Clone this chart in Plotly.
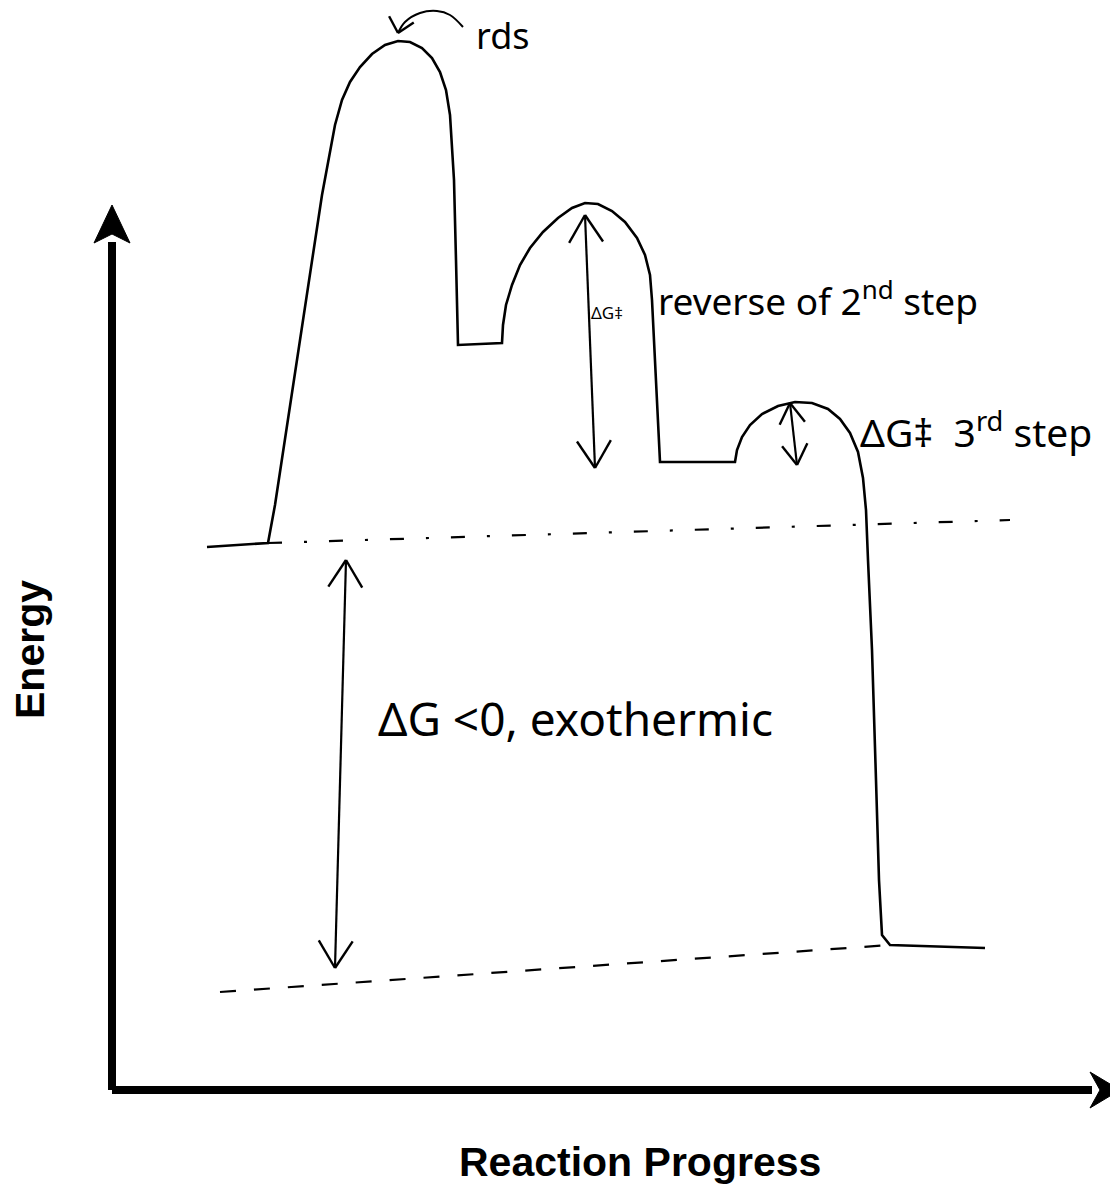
import math
import plotly.graph_objects as go

# ---------------- data (reaction progress, energy) ----------------
curve_x = [9.5, 15.6, 16.3, 17.3, 18.5, 19.8, 21.0,
           22.3, 23.0, 23.8, 24.8, 26.0, 27.3, 28.6, 29.8, 31.0, 32.0, 32.8, 33.4, 33.8,
           34.2, 34.4, 34.6,
           39.0, 39.1, 39.4, 40.0, 40.8, 41.8, 43.1, 44.6, 46.0, 47.3, 48.6, 50.0, 51.3, 52.5,
           53.3, 53.8, 54.0, 54.3, 54.6, 54.8,
           62.3, 62.5, 63.0, 63.8, 65.0, 66.6, 68.3, 70.0, 71.6, 72.8, 73.8, 74.6, 75.1, 75.4,
           75.6, 76.0, 76.4, 76.7, 77.0, 77.8, 87.3]
curve_y = [54.3, 54.7, 58.5, 65.0, 73.0, 81.5, 89.5,
           96.5, 99.0, 100.8, 102.3, 103.6, 104.5, 104.9, 104.8, 104.2, 103.2, 101.8, 100.0, 97.5,
           91.0, 83.0, 74.5,
           74.7, 76.5, 78.5, 80.5, 82.5, 84.2, 85.8, 87.2, 88.2, 88.7, 88.6, 87.9, 86.8, 85.2,
           83.5, 81.5, 79.0, 73.0, 66.0, 62.8,
           62.8, 64.0, 65.3, 66.5, 67.6, 68.4, 68.8, 68.7, 68.1, 67.1, 65.7, 63.8, 61.2, 58.0,
           53.0, 44.0, 31.0, 21.0, 15.5, 14.5, 14.2]

# reference levels (dashed guide lines)
reactant_level_x = [15.6, 89.8]
reactant_level_y = [54.7, 57.0]
product_level_x = [10.8, 77.8]
product_level_y = [9.8, 14.5]

# double-headed arrows: (x_top, y_top, x_bottom, y_bottom)
arrow_dG = [23.4, 53.0, 22.3, 12.2]
arrow_step2 = [47.3, 87.5, 48.3, 62.2]
arrow_step3 = [67.8, 68.7, 68.5, 62.5]

# curved "rds" pointer
rds_x = [35.1, 33.8, 32.5, 30.8, 29.3, 28.6]
rds_y = [106.3, 107.5, 107.9, 107.7, 106.8, 105.7]

# axis extents
x_axis_end = 98.0
y_axis_end = 84.8

labels = ["rds", "ΔG‡", "reverse of 2<sup>nd</sup> step", "ΔG‡  3<sup>rd</sup> step", "ΔG <0, exothermic"]
label_x = [39.1, 49.5, 70.6, 74.6, 46.3]
label_y = [105.5, 77.8, 79.2, 66.0, 37.2]
label_size = [36, 17, 37, 39, 46]
label_anchor = ["center", "center", "center", "left", "center"]

# ---------------- figure ----------------
fig = go.Figure()
ink = "#000000"


def head(tip_x, tip_y, from_x, from_y, length=3.0, ang=32):
    dx, dy = tip_x - from_x, tip_y - from_y
    d = math.hypot(dx, dy)
    ux, uy = dx / d, dy / d
    xs, ys = [], []
    for s in (1, -1):
        a = math.radians(ang) * s
        rx = ux * math.cos(a) - uy * math.sin(a)
        ry = ux * math.sin(a) + uy * math.cos(a)
        xs += [tip_x - rx * length, tip_x, None]
        ys += [tip_y - ry * length, tip_y, None]
    return xs, ys


def line(xs, ys, width=2.5, dash="solid", shape="linear"):
    fig.add_trace(go.Scatter(x=xs, y=ys, mode="lines", hoverinfo="skip",
                             line=dict(color=ink, width=width, dash=dash, shape=shape)))


# energy profile
line(curve_x, curve_y, width=2.6)

# dashed levels
line(reactant_level_x, reactant_level_y, width=2.2, dash="14px,22px,3px,22px")
line(product_level_x, product_level_y, width=2.2, dash="16px,18px")

# double-headed arrows
for ax in (arrow_dG, arrow_step2, arrow_step3):
    x1, y1, x2, y2 = ax
    L = 3.2 if ax is not arrow_step3 else 2.4
    line([x1, x2], [y1, y2], width=2.2)
    hx, hy = head(x1, y1, x2, y2, length=L)
    line(hx, hy, width=2.4)
    hx, hy = head(x2, y2, x1, y1, length=L)
    line(hx, hy, width=2.4)

# rds pointer
line(rds_x, rds_y, width=2.0, shape="spline")
hx, hy = head(rds_x[-1], rds_y[-1], rds_x[-1] + 0.5, rds_y[-1] + 2.0, length=1.9, ang=42)
line(hx, hy, width=2.4)

# axes
line([0, x_axis_end], [0, 0], width=8)
line([0, 0], [0, y_axis_end], width=8)
fig.add_trace(go.Scatter(x=[100.8, 97.8, 98.8, 97.8, 100.8], y=[0, 1.8, 0, -1.8, 0], mode="lines",
                         fill="toself", fillcolor=ink, line=dict(color=ink, width=1), hoverinfo="skip"))
fig.add_trace(go.Scatter(x=[0, -1.8, 0, 1.8, 0], y=[88.5, 84.7, 85.6, 84.7, 88.5], mode="lines",
                         fill="toself", fillcolor=ink, line=dict(color=ink, width=1), hoverinfo="skip"))

# handwritten-style labels
for t, x, y, s, a in zip(labels, label_x, label_y, label_size, label_anchor):
    fig.add_annotation(x=x, y=y, text=t, showarrow=False, xanchor=a, yanchor="middle",
                       font=dict(family="Noto Sans", size=s, color=ink))

# axis titles
fig.add_annotation(x=-8.2, y=44.0, text="<b>Energy</b>", textangle=-90, showarrow=False,
                   font=dict(family="Liberation Sans", size=41, color=ink))
fig.add_annotation(x=52.8, y=-7.2, text="<b>Reaction Progress</b>", showarrow=False,
                   font=dict(family="Liberation Sans", size=41, color=ink))

fig.update_layout(
    width=1118, height=1184,
    margin=dict(l=0, r=0, t=0, b=0),
    paper_bgcolor="white", plot_bgcolor="white",
    showlegend=False,
    xaxis=dict(range=[-10.4, 101.4], visible=False, fixedrange=True),
    yaxis=dict(range=[-10.2, 108.2], visible=False, fixedrange=True),
)

fig.write_html("out.html")
